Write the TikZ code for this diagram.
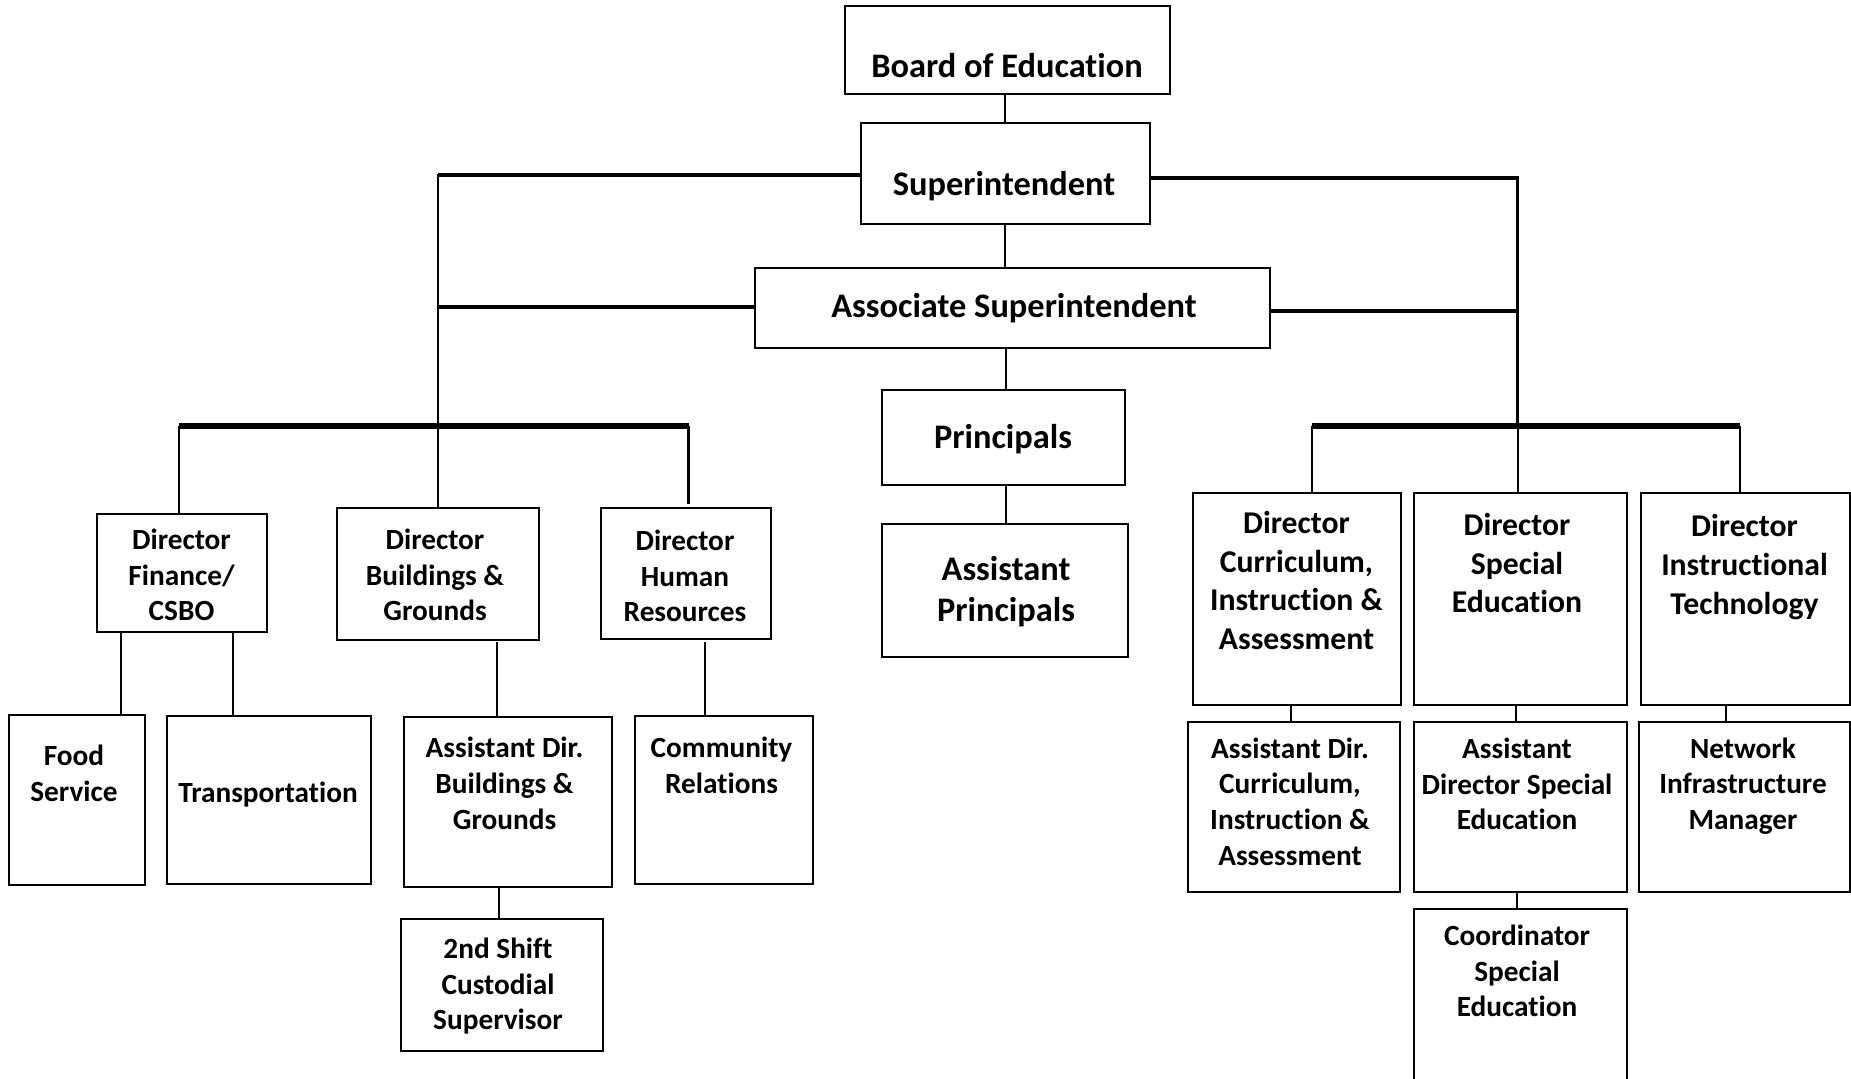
\documentclass[tikz,border=0pt]{standalone}
\usepackage{fontspec}
\setmainfont{Carlito}[Ligatures=NoCommon]
\usetikzlibrary{fit,calc}
\begin{document}
\begin{tikzpicture}[x=0.5pt,y=-0.5pt,
  box/.style={draw=black, line width=1pt, inner sep=0pt},
  sm/.style={font=\bfseries\fontsize{14.65pt}{17.85pt}\selectfont, align=center, inner sep=0pt},
  md/.style={font=\bfseries\fontsize{15.85pt}{19.35pt}\selectfont, align=center, inner sep=0pt},
  lg/.style={font=\bfseries\fontsize{17.2pt}{20.6pt}\selectfont, align=center, inner sep=0pt},
  conn/.style={draw=black, line width=0.9pt},
  barA/.style={draw=black, line width=2.25pt},
  barB/.style={draw=black, line width=3.1pt},
  vthick/.style={draw=black, line width=1.7pt}]
\useasboundingbox (0,0) rectangle (1851,1078);
% ---- boxes ----
\node[box, fit={(845,6) (1170,94)}] (board) {};
\node[box, fit={(861,123) (1149.5,224)}] (super) {};
\node[box, fit={(755,268) (1269.5,348)}] (assoc) {};
\node[box, fit={(881.5,390) (1124.5,484.5)}] (princ) {};
\node[box, fit={(882,524) (1127.5,657)}] (aprinc) {};
\node[box, fit={(97,514) (266.5,632)}] (dirF) {};
\node[box, fit={(337,508) (538.5,640)}] (dirB) {};
\node[box, fit={(600.5,508) (770.5,639)}] (dirH) {};
\node[box, fit={(9,715) (145,885)}] (food) {};
\node[box, fit={(166.5,716) (371,884)}] (trans) {};
\node[box, fit={(403.5,716.5) (612,886.5)}] (asstB) {};
\node[box, fit={(400.5,919) (603,1051)}] (shift) {};
\node[box, fit={(635,716) (813,884)}] (comm) {};
\node[box, fit={(1192.5,492.5) (1401,705)}] (dirC) {};
\node[box, fit={(1414,492.5) (1626.5,705)}] (dirS) {};
\node[box, fit={(1641,492.5) (1849.5,705)}] (dirT) {};
\node[box, fit={(1188,721.5) (1400,892)}] (asstC) {};
\node[box, fit={(1414,721.5) (1626.5,892)}] (asstS) {};
\node[box, fit={(1638.5,721.5) (1849.5,892)}] (net) {};
\node[box, fit={(1414,909) (1626.5,1095)}] (coord) {};
% ---- texts ----
\node[lg] (board-t) at (1007,66) {Board of Education};
\node[lg] (super-t) at (1004,186) {Superintendent};
\node[lg] (assoc-t) at (1014,308) {Associate Superintendent};
\node[lg] (princ-t) at (1003,439) {Principals};
\node[lg] (aprinc-t) at (1006,592) {Assistant\\Principals};
\node[sm] (dirF-t) at (181.5,575) {Director\\Finance/\\CSBO};
\node[sm] (dirB-t) at (435,575) {Director\\Buildings \&\\Grounds};
\node[sm] (dirH-t) at (685,576) {Director\\Human\\Resources};
\node[sm] (food-t) at (74,773.5) {Food\\Service};
\node[sm] (trans-t) at (268,795) {Transportation};
\node[sm] (asstB-t) at (504.5,783.5) {Assistant Dir.\\Buildings \&\\Grounds};
\node[sm] (shift-t) at (498,986) {2nd Shift\\Custodial\\Supervisor};
\node[sm] (comm-t) at (721.5,765.5) {Community\\Relations};
\node[md] (dirC-t) at (1296.5,580.5) {Director\\Curriculum,\\Instruction \&\\Assessment};
\node[md] (dirS-t) at (1517,563) {Director\\Special\\Education};
\node[md] (dirT-t) at (1744.5,567) {Director\\Instructional\\Technology};
\node[sm] (asstC-t) at (1290,801.5) {Assistant Dir.\\Curriculum,\\Instruction \&\\Assessment};
\node[sm] (asstS-t) at (1517,784) {Assistant\\Director Special\\Education};
\node[sm] (net-t) at (1743,786) {Network\\Infrastructure\\Manager};
\node[sm] (coord-t) at (1517,971) {Coordinator\\Special\\Education};
% ---- junction coordinates ----
\coordinate (jl1) at (438,175);
\coordinate (jl2) at (438,307);
\coordinate (jr1) at (1517.5,178);
\coordinate (jr2) at (1517.5,311);
\coordinate (jr3) at (1517.5,426);
\coordinate (lb1) at (179,426);
\coordinate (lb2) at (688.5,426);
\coordinate (lb2e) at (688.5,503.5);
\coordinate (rb1) at (1312,426);
\coordinate (rb2) at (1740,426);
% ---- main spine ----
\draw[conn] (super.north -| 1005,0) -- (board.south -| 1005,0);
\draw[conn] (1005,0 |- super.south) -- (1005,0 |- assoc.north);
\draw[conn] (1006,0 |- assoc.south) -- (1006,0 |- princ.north);
\draw[conn] (1006,0 |- princ.south) -- (1006,0 |- aprinc.north);
% ---- thick side bars ----
\draw[barA] (jl1) -- (jl1 -| super.west);
\draw[barA] (super.east |- jr1) -- ([xshift=0.6pt]jr1);
\draw[barA] (jl2) -- (jl2 -| assoc.west);
\draw[barA] (assoc.east |- jr2) -- ([xshift=0.6pt]jr2);
\draw[conn, line width=1pt] ([yshift=0.6pt]jl1) -- (jl1 |- dirB.north);
\draw[vthick] ([yshift=-0.6pt]jr1) -- (jr3);
\draw[conn, line width=1pt] (jr3) -- (jr3 |- dirS.north);
% ---- lower bars ----
\draw[barB] (lb1) -- (lb2);
\draw[vthick, line width=1.4pt] (lb1) -- (lb1 |- dirF.north);
\draw[conn, line width=1.1pt] (lb2) -- (lb2e);
\draw[barB] (rb1) -- (rb2);
\draw[conn, line width=1.1pt] (rb1) -- (rb1 |- dirC.north);
\draw[conn, line width=1.1pt] (rb2) -- (rb2 |- dirT.north);
% ---- children ----
\draw[conn] (121,0 |- dirF.south) -- (121,0 |- food.north);
\draw[conn] (233,0 |- dirF.south) -- (233,0 |- trans.north);
\draw[conn] (497,642) -- (497,0 |- asstB.north);
\draw[conn] (499,0 |- asstB.south) -- (499,0 |- shift.north);
\draw[conn] (705,642) -- (705,0 |- comm.north);
\draw[conn] (1291,0 |- dirC.south) -- (1291,0 |- asstC.north);
\draw[conn] (1516,0 |- dirS.south) -- (1516,0 |- asstS.north);
\draw[conn] (1517,0 |- asstS.south) -- (1517,0 |- coord.north);
\draw[conn] (1726,0 |- dirT.south) -- (1726,0 |- net.north);
\end{tikzpicture}
\end{document}
